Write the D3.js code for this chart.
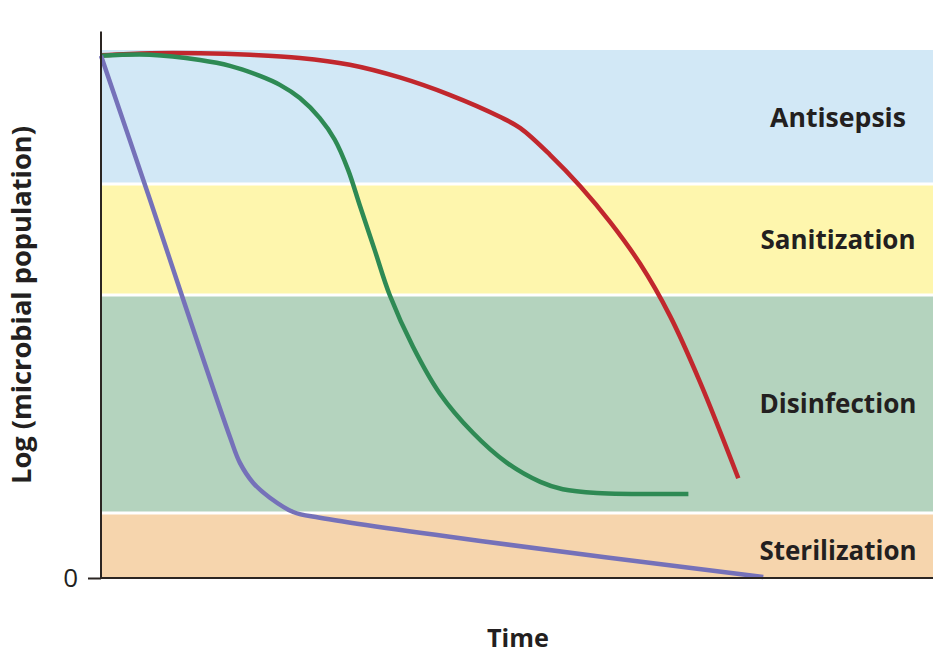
<!DOCTYPE html>
<html>
<head>
<meta charset="utf-8">
<script src="https://cdn.jsdelivr.net/npm/d3@7"></script>
<style>
  html, body { margin: 0; padding: 0; background: #fff; }
  svg { display: block; }
  text { font-family: "Open Sans", "Noto Sans", sans-serif; fill: #231f20; }
</style>
</head>
<body>
<svg id="chart" width="940" height="658"></svg>
<script>
// ---- Data ----
const bandNames = ["Sterilization", "Disinfection", "Sanitization", "Antisepsis"];
const bandLower = [0, 1.23, 5.36, 7.46];
const bandUpper = [1.23, 5.36, 7.46, 10.0];
const bandColors = ["#f6d5ad", "#b4d3be", "#fef6ad", "#d2e8f6"];

const redTime = [0, 5.9, 11.9, 17.9, 23.9, 29.9, 35.9, 41.9, 48.0, 50.4, 54.0, 57.6, 61.2, 64.8, 68.4, 72.0, 76.6];
const redLog  = [9.9, 9.94, 9.94, 9.91, 9.85, 9.72, 9.48, 9.15, 8.73, 8.52, 8.01, 7.42, 6.74, 5.95, 4.96, 3.71, 1.89];

const greenTime = [0, 5.9, 11.9, 15.5, 19.1, 21.5, 23.9, 26.3, 28.1, 29.7, 31.1, 32.9, 34.7, 37.5, 40.7, 44.7, 48.8, 52.8, 55.5, 59.6, 70.6];
const greenLog  = [9.89, 9.91, 9.81, 9.70, 9.51, 9.34, 9.09, 8.71, 8.30, 7.73, 7.06, 6.21, 5.36, 4.38, 3.50, 2.75, 2.18, 1.82, 1.68, 1.61, 1.59];

const purpleTime = [0, 5.9, 9.7, 15.5, 16.7, 18.3, 20.3, 23.1, 26.3, 45.6, 79.6];
const purpleLog  = [9.89, 7.16, 5.36, 2.67, 2.18, 1.80, 1.52, 1.25, 1.14, 0.70, 0.02];

const yTickValues = [0];
const yTickLabels = ["0"];

// ---- Layout ----
const svg = d3.select("#chart");
const x = d3.scaleLinear().domain([0, 100]).range([101, 933]);
const y = d3.scaleLinear().domain([0, 10]).range([578, 50]);
const yAxisTop = 10.35;

// fit a text element's font size to a target width
function fitWidth(sel, target) {
  sel.each(function () {
    const el = d3.select(this);
    const fs = parseFloat(el.attr("font-size"));
    const w = this.getComputedTextLength();
    if (w > 0) el.attr("font-size", (fs * target / w).toFixed(2));
  });
}

// Bands
const bands = bandNames.map((n, i) => ({ name: n, lo: bandLower[i], hi: bandUpper[i], color: bandColors[i] }));
svg.append("g").selectAll("rect").data(bands).join("rect")
  .attr("x", x(0))
  .attr("width", x(100) - x(0))
  .attr("y", d => y(d.hi))
  .attr("height", d => y(d.lo) - y(d.hi))
  .attr("fill", d => d.color);

// White separators between bands
svg.append("g").selectAll("line").data(bandLower.slice(1)).join("line")
  .attr("x1", x(0)).attr("x2", x(100))
  .attr("y1", d => y(d)).attr("y2", d => y(d))
  .attr("stroke", "#fff").attr("stroke-width", 3);

// Band labels
const labelWidths = { Antisepsis: 136, Sanitization: 155, Disinfection: 157, Sterilization: 157 };
svg.append("g").selectAll("text").data(bands).join("text")
  .attr("x", 838)
  .attr("y", d => (y(d.lo) + y(d.hi)) / 2 + (d.name === "Sterilization" ? 5 : 0))
  .attr("dy", "0.36em")
  .attr("text-anchor", "middle")
  .attr("font-size", 22)
  .attr("font-weight", 700)
  .text(d => d.name)
  .each(function (d) { fitWidth(d3.select(this), labelWidths[d.name]); });

// Curves
const line = d3.line().x(d => x(d[0])).y(d => y(d[1])).curve(d3.curveCatmullRom.alpha(0.5));
const series = [
  { t: redTime, v: redLog, color: "#c1272d" },
  { t: greenTime, v: greenLog, color: "#2e8a54" },
  { t: purpleTime, v: purpleLog, color: "#7571b9" }
];
svg.append("g").selectAll("path").data(series).join("path")
  .attr("d", s => line(s.t.map((t, i) => [t, s.v[i]])))
  .attr("fill", "none")
  .attr("stroke", s => s.color)
  .attr("stroke-width", 4.5)
  .attr("stroke-linecap", "butt");

// Axes
const axisColor = "#2b2522";
svg.append("line")
  .attr("x1", x(0)).attr("x2", x(0))
  .attr("y1", y(0)).attr("y2", y(yAxisTop))
  .attr("stroke", axisColor).attr("stroke-width", 2);
svg.append("line")
  .attr("x1", x(0) - 1).attr("x2", x(100))
  .attr("y1", y(0)).attr("y2", y(0))
  .attr("stroke", axisColor).attr("stroke-width", 2);

const yAxis = d3.axisLeft(y).tickValues(yTickValues).tickFormat((d, i) => yTickLabels[i]).tickSize(13).tickPadding(10);
const gY = svg.append("g").attr("transform", `translate(${x(0)},0)`).call(yAxis);
gY.select(".domain").remove();
gY.selectAll(".tick line").attr("stroke", axisColor).attr("stroke-width", 2);
gY.selectAll(".tick text").attr("font-size", 26).attr("font-family", "'Open Sans', sans-serif").attr("fill", "#231f20");

// Axis titles
svg.append("text")
  .attr("x", 518).attr("y", 647)
  .attr("text-anchor", "middle")
  .attr("font-size", 21).attr("font-weight", 700)
  .text("Time")
  .call(fitWidth, 62);
svg.append("text")
  .attr("transform", "translate(31,305) rotate(-90)")
  .attr("text-anchor", "middle")
  .attr("font-size", 20).attr("font-weight", 700)
  .text("Log (microbial population)")
  .call(fitWidth, 358);
</script>
</body>
</html>
